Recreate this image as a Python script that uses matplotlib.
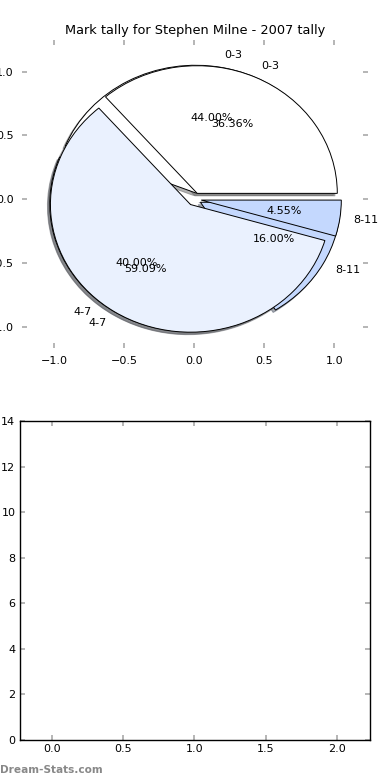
import matplotlib
matplotlib.use("Agg")
import matplotlib.pyplot as plt

title = "Mark tally for Stephen Milne - 2007 tally"
categories = ["0-3", "4-7", "8-11"]
values_a = [44.00, 40.00, 16.00]
values_b = [36.36, 59.09, 4.55]
colors = ["#ffffff", "#eaf1fe", "#c4d8fe"]
explode = [0.05, 0.05, 0.05]
bottom_xticks = [0.0, 0.5, 1.0, 1.5, 2.0]
bottom_yticks = [0, 2, 4, 6, 8, 10, 12, 14]
pie_ticks = [-1.0, -0.5, 0.0, 0.5, 1.0]

W, H = 390, 780
fig = plt.figure(figsize=(3.9, 7.8), dpi=100)
fig.patch.set_facecolor("white")

def box(l, t, r, b):
    return [l / W, 1 - b / H, (r - l) / W, (b - t) / H]

tick_kw = dict(direction="in", length=3.5, width=1.3, color="#b0b0b0",
               labelsize=8, labelcolor="black", top=True, right=True)

ax1 = fig.add_axes(box(22, 40, 368, 348))
wp = dict(edgecolor="black", linewidth=0.7)
for vals in (values_a, values_b):
    ax1.pie(vals, labels=categories, colors=colors, explode=explode,
            autopct="%.2f%%", shadow={"ox": -0.012, "oy": -0.014, "shade": 0.6},
            labeldistance=1.1, pctdistance=0.6, wedgeprops=wp,
            normalize=True, textprops=dict(fontsize=8))
ax1.set_aspect("auto")
ax1.set_xlim(-1.23, 1.24)
ax1.set_ylim(-1.166, 1.247)
ax1.set_xticks(pie_ticks)
ax1.set_yticks(pie_ticks)
ax1.tick_params(**tick_kw, pad=6)
for s in ax1.spines.values():
    s.set_visible(False)
ax1.set_title(title, fontsize=9.3, pad=4)

ax2 = fig.add_axes(box(19.5, 421, 370, 740))
ax2.set_xlim(-0.225, 2.23)
ax2.set_ylim(0, 14)
ax2.set_xticks(bottom_xticks)
ax2.set_yticks(bottom_yticks)
ax2.tick_params(**tick_kw, pad=3)
for s in ax2.spines.values():
    s.set_linewidth(1.0)

fig.text(0.0, 1 - 770 / H, "Dream-Stats.com", fontsize=7.6, color="#888888",
         ha="left", va="center", fontweight="semibold")

fig.savefig("out.png", dpi=100)
